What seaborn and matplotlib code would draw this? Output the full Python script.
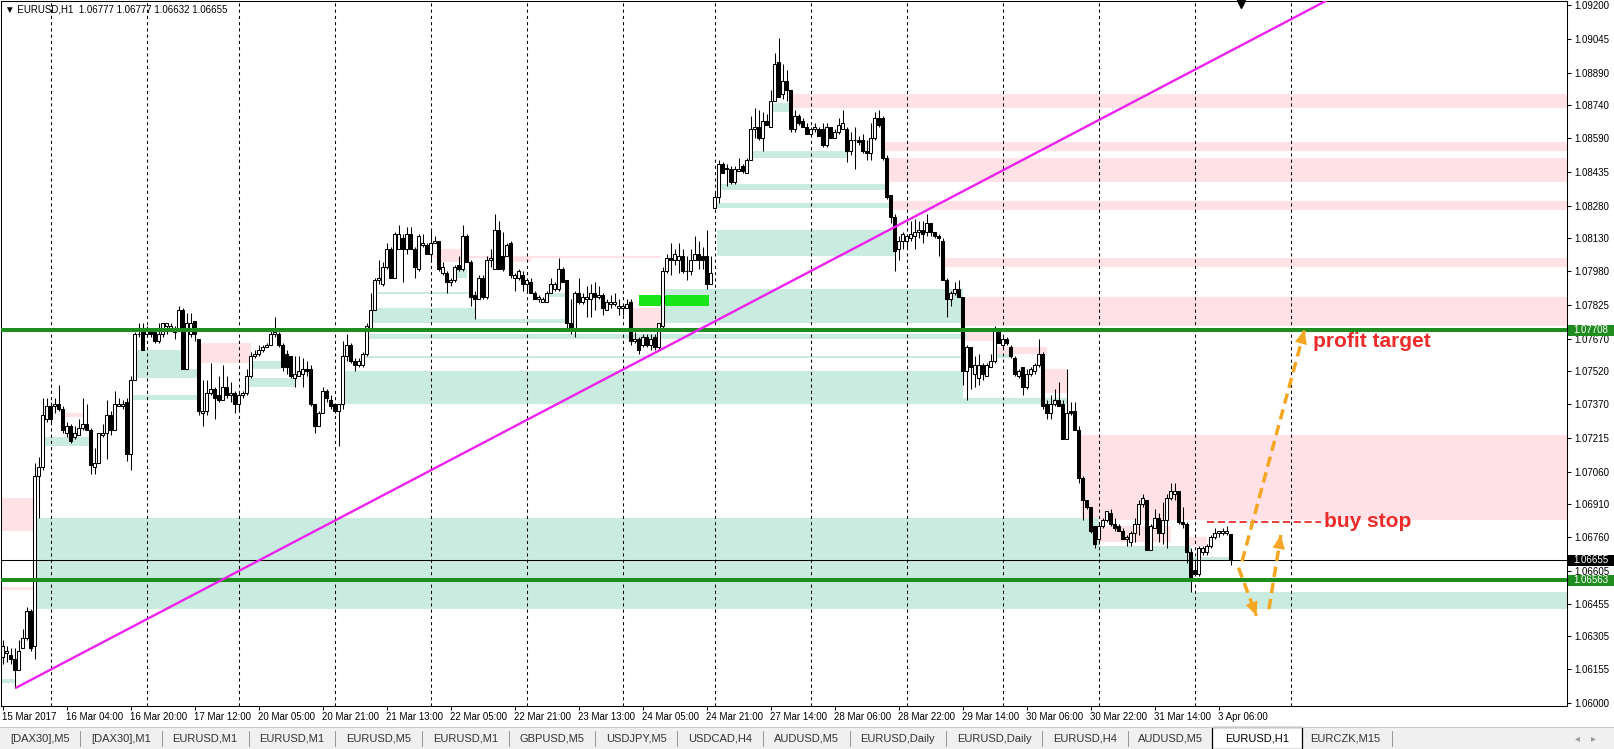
import numpy as np
import pandas as pd
import matplotlib
matplotlib.use("Agg")
import matplotlib.pyplot as plt
from matplotlib.patches import Rectangle
from matplotlib.lines import Line2D
from matplotlib.transforms import blended_transform_factory
import seaborn as sns

# -----------------------------
# EURUSD H1 candles (bar 0 = 15 Mar 2017)
# -----------------------------
open_ = [
    1.0621, 1.0623, 1.0622, 1.0620, 1.0615, 1.0625, 1.0630, 1.0642, 1.0626, 1.0704,
    1.0708, 1.0730, 1.0736, 1.0736, 1.0737, 1.0735, 1.0724, 1.0727, 1.0722, 1.0723,
    1.0726, 1.0728, 1.0725, 1.0708, 1.0710, 1.0723, 1.0724, 1.0732, 1.0725, 1.0736,
    1.0736, 1.0738, 1.0714, 1.0748, 1.0769, 1.0771, 1.0769, 1.0771, 1.0770, 1.0766,
    1.0769, 1.0773, 1.0772, 1.0772, 1.0771, 1.0780, 1.0753, 1.0769, 1.0775, 1.0767,
    1.0733, 1.0734, 1.0742, 1.0744, 1.0741, 1.0739, 1.0745, 1.0741, 1.0742, 1.0737,
    1.0741, 1.0742, 1.0750, 1.0759, 1.0760, 1.0762, 1.0763, 1.0764, 1.0769, 1.0769,
    1.0764, 1.0760, 1.0759, 1.0749, 1.0750, 1.0751, 1.0753, 1.0753, 1.0737, 1.0727,
    1.0733, 1.0743, 1.0739, 1.0737, 1.0734, 1.0737, 1.0759, 1.0764, 1.0757, 1.0755,
    1.0755, 1.0760, 1.0772, 1.0780, 1.0794, 1.0792, 1.0800, 1.0808, 1.0795, 1.0808,
    1.0813, 1.0808, 1.0815, 1.0808, 1.0799, 1.0810, 1.0810, 1.0806, 1.0811, 1.0812,
    1.0797, 1.0797, 1.0793, 1.0794, 1.0801, 1.0799, 1.0814, 1.0802, 1.0787, 1.0785,
    1.0795, 1.0786, 1.0803, 1.0799, 1.0817, 1.0805, 1.0805, 1.0811, 1.0795, 1.0795,
    1.0796, 1.0792, 1.0793, 1.0788, 1.0785, 1.0784, 1.0784, 1.0788, 1.0790, 1.0790,
    1.0799, 1.0794, 1.0774, 1.0772, 1.0788, 1.0784, 1.0785, 1.0785, 1.0788, 1.0786,
    1.0787, 1.0780, 1.0783, 1.0783, 1.0781, 1.0781, 1.0781, 1.0784, 1.0766, 1.0767,
    1.0764, 1.0768, 1.0764, 1.0768, 1.0763, 1.0773, 1.0798, 1.0804, 1.0803, 1.0803,
    1.0805, 1.0798, 1.0798, 1.0803, 1.0806, 1.0805, 1.0805, 1.0792, 1.0827, 1.0832,
    1.0847, 1.0845, 1.0845, 1.0839, 1.0844, 1.0846, 1.0843, 1.0849, 1.0863, 1.0864,
    1.0859, 1.0867, 1.0864, 1.0876, 1.0894, 1.0879, 1.0885, 1.0881, 1.0863, 1.0869,
    1.0867, 1.0864, 1.0861, 1.0863, 1.0863, 1.0863, 1.0856, 1.0864, 1.0859, 1.0862,
    1.0863, 1.0863, 1.0853, 1.0858, 1.0858, 1.0858, 1.0853, 1.0852, 1.0859, 1.0868,
    1.0868, 1.0850, 1.0833, 1.0823, 1.0808, 1.0812, 1.0812, 1.0813, 1.0814, 1.0816,
    1.0817, 1.0816, 1.0820, 1.0816, 1.0814, 1.0812, 1.0794, 1.0785, 1.0788, 1.0790,
    1.0786, 1.0752, 1.0763, 1.0751, 1.0749, 1.0755, 1.0750, 1.0754, 1.0757, 1.0771,
    1.0764, 1.0767, 1.0763, 1.0758, 1.0750, 1.0754, 1.0745, 1.0751, 1.0752, 1.0755,
    1.0760, 1.0737, 1.0733, 1.0737, 1.0739, 1.0737, 1.0721, 1.0734, 1.0734, 1.0725,
    1.0703, 1.0693, 1.0690, 1.0681, 1.0675, 1.0681, 1.0684, 1.0687, 1.0682, 1.0681,
    1.0679, 1.0675, 1.0674, 1.0678, 1.0682, 1.0691, 1.0693, 1.0670, 1.0680, 1.0685,
    1.0678, 1.0684, 1.0694, 1.0696, 1.0697, 1.0683, 1.0682, 1.0669, 1.0661, 1.0659,
    1.0669, 1.0669, 1.0672, 1.0676, 1.0678, 1.0678, 1.0678, 1.06777,
]
high = [
    1.0629, 1.0626, 1.0625, 1.0625, 1.0629, 1.0634, 1.0644, 1.0643, 1.0710, 1.0713,
    1.0740, 1.0740, 1.0738, 1.0740, 1.0746, 1.0736, 1.0729, 1.0728, 1.0727, 1.0730,
    1.0740, 1.0737, 1.0726, 1.0717, 1.0724, 1.0728, 1.0739, 1.0734, 1.0743, 1.0740,
    1.0739, 1.0740, 1.0750, 1.0770, 1.0774, 1.0774, 1.0773, 1.0772, 1.0772, 1.0774,
    1.0774, 1.0774, 1.0774, 1.0773, 1.0782, 1.0781, 1.0779, 1.0779, 1.0775, 1.0767,
    1.0748, 1.0748, 1.0756, 1.0745, 1.0750, 1.0755, 1.0750, 1.0747, 1.0743, 1.0742,
    1.0743, 1.0753, 1.0761, 1.0762, 1.0764, 1.0764, 1.0765, 1.0771, 1.0777, 1.0770,
    1.0765, 1.0762, 1.0759, 1.0759, 1.0759, 1.0758, 1.0757, 1.0755, 1.0737, 1.0734,
    1.0745, 1.0744, 1.0741, 1.0737, 1.0737, 1.0766, 1.0769, 1.0765, 1.0758, 1.0758,
    1.0761, 1.0774, 1.0788, 1.0795, 1.0803, 1.0802, 1.0811, 1.0809, 1.0816, 1.0819,
    1.0815, 1.0818, 1.0818, 1.0809, 1.0815, 1.0815, 1.0811, 1.0817, 1.0814, 1.0812,
    1.0802, 1.0798, 1.0795, 1.0801, 1.0805, 1.0819, 1.0815, 1.0803, 1.0789, 1.0796,
    1.0796, 1.0805, 1.0808, 1.0824, 1.0821, 1.0816, 1.0811, 1.0812, 1.0797, 1.0799,
    1.0798, 1.0794, 1.0795, 1.0789, 1.0787, 1.0786, 1.0789, 1.0795, 1.0793, 1.0804,
    1.0800, 1.0794, 1.0785, 1.0789, 1.0795, 1.0788, 1.0791, 1.0792, 1.0793, 1.0791,
    1.0788, 1.0785, 1.0787, 1.0788, 1.0785, 1.0783, 1.0785, 1.0785, 1.0770, 1.0768,
    1.0769, 1.0769, 1.0769, 1.0769, 1.0774, 1.0800, 1.0806, 1.0811, 1.0808, 1.0811,
    1.0808, 1.0805, 1.0808, 1.0814, 1.0812, 1.0809, 1.0817, 1.0805, 1.0834, 1.0849,
    1.0848, 1.0847, 1.0846, 1.0846, 1.0850, 1.0847, 1.0850, 1.0869, 1.0873, 1.0872,
    1.0871, 1.0870, 1.0881, 1.0898, 1.0905, 1.0893, 1.0890, 1.0881, 1.0872, 1.0870,
    1.0868, 1.0866, 1.0864, 1.0866, 1.0864, 1.0866, 1.0866, 1.0864, 1.0863, 1.0868,
    1.0872, 1.0864, 1.0862, 1.0864, 1.0860, 1.0861, 1.0858, 1.0866, 1.0871, 1.0872,
    1.0869, 1.0851, 1.0833, 1.0824, 1.0814, 1.0816, 1.0815, 1.0821, 1.0822, 1.0821,
    1.0821, 1.0824, 1.0820, 1.0816, 1.0815, 1.0813, 1.0795, 1.0789, 1.0793, 1.0794,
    1.0786, 1.0764, 1.0763, 1.0759, 1.0760, 1.0756, 1.0756, 1.0760, 1.0773, 1.0772,
    1.0768, 1.0768, 1.0764, 1.0759, 1.0753, 1.0754, 1.0753, 1.0754, 1.0756, 1.0767,
    1.0761, 1.0739, 1.0741, 1.0744, 1.0747, 1.0739, 1.0753, 1.0738, 1.0738, 1.0727,
    1.0704, 1.0693, 1.0690, 1.0681, 1.0683, 1.0685, 1.0688, 1.0689, 1.0685, 1.0682,
    1.0680, 1.0677, 1.0679, 1.0685, 1.0693, 1.0696, 1.0693, 1.0682, 1.0689, 1.0687,
    1.0692, 1.0696, 1.0701, 1.0701, 1.0697, 1.0690, 1.0683, 1.0671, 1.0665, 1.0672,
    1.0672, 1.0673, 1.0677, 1.0680, 1.0679, 1.0680, 1.0681, 1.06777,
]
low = [
    1.0618, 1.0619, 1.0618, 1.0607, 1.0615, 1.0625, 1.0629, 1.0624, 1.0620, 1.0685,
    1.0707, 1.0729, 1.0729, 1.0733, 1.0734, 1.0724, 1.0722, 1.0719, 1.0721, 1.0723,
    1.0725, 1.0725, 1.0705, 1.0705, 1.0710, 1.0722, 1.0712, 1.0723, 1.0725, 1.0736,
    1.0735, 1.0711, 1.0707, 1.0748, 1.0768, 1.0762, 1.0768, 1.0768, 1.0765, 1.0765,
    1.0768, 1.0769, 1.0771, 1.0767, 1.0771, 1.0753, 1.0753, 1.0768, 1.0766, 1.0732,
    1.0727, 1.0732, 1.0741, 1.0730, 1.0738, 1.0739, 1.0740, 1.0738, 1.0733, 1.0734,
    1.0740, 1.0741, 1.0749, 1.0758, 1.0759, 1.0761, 1.0763, 1.0764, 1.0768, 1.0763,
    1.0752, 1.0751, 1.0749, 1.0745, 1.0750, 1.0745, 1.0750, 1.0736, 1.0724, 1.0727,
    1.0733, 1.0738, 1.0735, 1.0733, 1.0718, 1.0735, 1.0757, 1.0756, 1.0752, 1.0754,
    1.0754, 1.0759, 1.0772, 1.0780, 1.0792, 1.0791, 1.0799, 1.0795, 1.0795, 1.0808,
    1.0793, 1.0806, 1.0808, 1.0795, 1.0798, 1.0809, 1.0806, 1.0802, 1.0811, 1.0798,
    1.0796, 1.0788, 1.0791, 1.0793, 1.0798, 1.0798, 1.0802, 1.0782, 1.0776, 1.0785,
    1.0785, 1.0785, 1.0800, 1.0799, 1.0799, 1.0798, 1.0805, 1.0795, 1.0789, 1.0794,
    1.0789, 1.0789, 1.0788, 1.0785, 1.0784, 1.0784, 1.0784, 1.0788, 1.0789, 1.0789,
    1.0793, 1.0772, 1.0769, 1.0768, 1.0783, 1.0783, 1.0777, 1.0777, 1.0780, 1.0785,
    1.0778, 1.0780, 1.0781, 1.0782, 1.0778, 1.0778, 1.0781, 1.0764, 1.0765, 1.0760,
    1.0763, 1.0763, 1.0762, 1.0762, 1.0762, 1.0772, 1.0797, 1.0796, 1.0801, 1.0797,
    1.0797, 1.0794, 1.0796, 1.0803, 1.0799, 1.0799, 1.0790, 1.0792, 1.0827, 1.0829,
    1.0843, 1.0837, 1.0838, 1.0838, 1.0844, 1.0843, 1.0843, 1.0849, 1.0859, 1.0858,
    1.0853, 1.0865, 1.0864, 1.0876, 1.0878, 1.0877, 1.0876, 1.0862, 1.0862, 1.0865,
    1.0864, 1.0861, 1.0860, 1.0862, 1.0860, 1.0855, 1.0855, 1.0859, 1.0859, 1.0861,
    1.0863, 1.0848, 1.0851, 1.0845, 1.0856, 1.0852, 1.0849, 1.0849, 1.0858, 1.0864,
    1.0849, 1.0831, 1.0820, 1.0798, 1.0803, 1.0808, 1.0808, 1.0812, 1.0808, 1.0813,
    1.0811, 1.0814, 1.0814, 1.0813, 1.0805, 1.0794, 1.0777, 1.0782, 1.0787, 1.0786,
    1.0746, 1.0739, 1.0744, 1.0745, 1.0746, 1.0748, 1.0750, 1.0754, 1.0756, 1.0765,
    1.0763, 1.0764, 1.0758, 1.0750, 1.0749, 1.0741, 1.0744, 1.0750, 1.0751, 1.0754,
    1.0735, 1.0730, 1.0730, 1.0736, 1.0736, 1.0721, 1.0721, 1.0732, 1.0725, 1.0701,
    1.0684, 1.0689, 1.0678, 1.0671, 1.0673, 1.0680, 1.0683, 1.0681, 1.0679, 1.0679,
    1.0675, 1.0672, 1.0672, 1.0674, 1.0677, 1.0690, 1.0670, 1.0670, 1.0680, 1.0674,
    1.0673, 1.0671, 1.0693, 1.0693, 1.0682, 1.0680, 1.0664, 1.0651, 1.0658, 1.0658,
    1.0668, 1.0668, 1.0671, 1.0675, 1.0676, 1.0677, 1.0677, 1.06632,
]
close = [
    1.0626, 1.0624, 1.0620, 1.0615, 1.0624, 1.0630, 1.0642, 1.0625, 1.0704, 1.0708,
    1.0732, 1.0736, 1.0730, 1.0737, 1.0735, 1.0725, 1.0727, 1.0720, 1.0724, 1.0726,
    1.0728, 1.0725, 1.0709, 1.0710, 1.0724, 1.0724, 1.0732, 1.0725, 1.0737, 1.0737,
    1.0737, 1.0714, 1.0748, 1.0769, 1.0769, 1.0762, 1.0771, 1.0769, 1.0766, 1.0769,
    1.0774, 1.0774, 1.0773, 1.0770, 1.0780, 1.0753, 1.0774, 1.0774, 1.0769, 1.0734,
    1.0734, 1.0742, 1.0744, 1.0740, 1.0739, 1.0745, 1.0741, 1.0742, 1.0737, 1.0741,
    1.0742, 1.0750, 1.0759, 1.0760, 1.0762, 1.0763, 1.0764, 1.0769, 1.0770, 1.0764,
    1.0754, 1.0754, 1.0750, 1.0751, 1.0752, 1.0753, 1.0752, 1.0737, 1.0727, 1.0733,
    1.0743, 1.0740, 1.0736, 1.0734, 1.0737, 1.0759, 1.0764, 1.0757, 1.0755, 1.0757,
    1.0760, 1.0773, 1.0780, 1.0794, 1.0795, 1.0800, 1.0808, 1.0795, 1.0815, 1.0815,
    1.0808, 1.0815, 1.0808, 1.0800, 1.0814, 1.0811, 1.0806, 1.0811, 1.0812, 1.0799,
    1.0800, 1.0793, 1.0794, 1.0800, 1.0799, 1.0814, 1.0802, 1.0786, 1.0785, 1.0795,
    1.0786, 1.0803, 1.0804, 1.0817, 1.0799, 1.0799, 1.0810, 1.0796, 1.0796, 1.0798,
    1.0792, 1.0794, 1.0788, 1.0785, 1.0786, 1.0785, 1.0788, 1.0792, 1.0792, 1.0799,
    1.0793, 1.0774, 1.0772, 1.0788, 1.0784, 1.0786, 1.0786, 1.0788, 1.0786, 1.0787,
    1.0781, 1.0784, 1.0784, 1.0784, 1.0782, 1.0782, 1.0783, 1.0766, 1.0767, 1.0762,
    1.0768, 1.0764, 1.0767, 1.0763, 1.0774, 1.0798, 1.0804, 1.0803, 1.0806, 1.0805,
    1.0798, 1.0798, 1.0803, 1.0806, 1.0803, 1.0803, 1.0792, 1.0797, 1.0832, 1.0847,
    1.0843, 1.0845, 1.0839, 1.0845, 1.0845, 1.0844, 1.0849, 1.0863, 1.0864, 1.0859,
    1.0867, 1.0865, 1.0876, 1.0893, 1.0878, 1.0885, 1.0881, 1.0863, 1.0869, 1.0866,
    1.0864, 1.0861, 1.0863, 1.0864, 1.0860, 1.0856, 1.0864, 1.0859, 1.0862, 1.0865,
    1.0866, 1.0853, 1.0858, 1.0858, 1.0857, 1.0853, 1.0852, 1.0859, 1.0868, 1.0865,
    1.0850, 1.0832, 1.0823, 1.0807, 1.0812, 1.0815, 1.0814, 1.0815, 1.0816, 1.0817,
    1.0815, 1.0820, 1.0816, 1.0814, 1.0813, 1.0794, 1.0785, 1.0788, 1.0790, 1.0786,
    1.0752, 1.0763, 1.0754, 1.0755, 1.0755, 1.0751, 1.0755, 1.0757, 1.0771, 1.0765,
    1.0767, 1.0765, 1.0759, 1.0751, 1.0752, 1.0745, 1.0751, 1.0753, 1.0755, 1.0760,
    1.0736, 1.0733, 1.0737, 1.0739, 1.0736, 1.0721, 1.0733, 1.0733, 1.0725, 1.0703,
    1.0693, 1.0690, 1.0679, 1.0673, 1.0681, 1.0684, 1.0688, 1.0682, 1.0680, 1.0679,
    1.0675, 1.0676, 1.0678, 1.0682, 1.0691, 1.0694, 1.0670, 1.0681, 1.0685, 1.0678,
    1.0684, 1.0694, 1.0697, 1.0697, 1.0683, 1.0682, 1.0669, 1.0657, 1.0659, 1.0671,
    1.0671, 1.0672, 1.0676, 1.0678, 1.0679, 1.0679, 1.0679, 1.06655,
]

# time axis: a label every 16 bars, day separators at midnight bars
date_labels = ["15 Mar 2017", "16 Mar 04:00", "16 Mar 20:00", "17 Mar 12:00", "20 Mar 05:00",
               "20 Mar 21:00", "21 Mar 13:00", "22 Mar 05:00", "22 Mar 21:00", "23 Mar 13:00",
               "24 Mar 05:00", "24 Mar 21:00", "27 Mar 14:00", "28 Mar 06:00", "28 Mar 22:00",
               "29 Mar 14:00", "30 Mar 06:00", "30 Mar 22:00", "31 Mar 14:00", "3 Apr 06:00"]
day_bars = [12, 36, 59, 83, 107, 131, 155, 178, 202, 226, 250, 274, 298, 322]

price_labels = ["1.09200", "1.09045", "1.08890", "1.08740", "1.08590", "1.08435", "1.08280",
                "1.08130", "1.07980", "1.07825", "1.07670", "1.07520", "1.07370", "1.07215",
                "1.07060", "1.06910", "1.06760", "1.06605", "1.06455", "1.06305", "1.06155",
                "1.06000"]

level_prices = [1.07708, 1.06563]
bid_price = 1.06655

# supply zones (pink): start bar, end bar, low, high
supply_start = [-1, -1, 16, 50, 108, 110, 128, 158, 198, 221, 222, 223, 236, 241, 241, 248, 261, 270, 271, 297]
supply_end = [8.5, 8.5, 20, 62, 164.5, 115.5, 132, 165, 400, 400, 400, 400, 400, 400, 249, 261, 266, 400, 292, 301]
supply_low = [1.0679, 1.0652, 1.0731, 1.0756, 1.0804, 1.0802, 1.0802, 1.0772, 1.0873, 1.0853,
              1.0839, 1.0826, 1.0800, 1.0773, 1.0766, 1.0760, 1.0742, 1.0684, 1.0674, 1.0672]
supply_high = [1.0694, 1.0653, 1.0733, 1.0765, 1.0805, 1.0808, 1.0805, 1.0781, 1.0879, 1.0857,
               1.0850, 1.0830, 1.0804, 1.0786, 1.0770, 1.0763, 1.0753, 1.0723, 1.0681, 1.0676]

# demand zones (mint)
demand_start = [-1, 9, 9, 9, 11, 33, 34, 45, 62, 63, 86, 240, 91, 92, 93, 118, 94, 114,
                166, 179, 179, 180, 188, 193, 137, 249, 298]
demand_end = [3, 274, 297, 400, 22, 49, 45, 49, 73, 69.5, 240, 266, 241, 241, 118, 141, 117, 116,
              240, 223, 222, 221, 211, 197, 141, 252, 307]
demand_low = [1.0609, 1.0672, 1.0651, 1.0643, 1.0718, 1.0739, 1.0749, 1.0749, 1.0745, 1.0753,
              1.0737, 1.0737, 1.0758, 1.0767, 1.0774, 1.0774, 1.07875, 1.0795, 1.0774, 1.0805,
              1.0827, 1.0835, 1.0850, 1.0871, 1.0786, 1.0758, 1.0665]
demand_high = [1.0611, 1.0685, 1.0672, 1.0651, 1.0722, 1.0741, 1.0762, 1.0753, 1.0749, 1.0757,
               1.0752, 1.0740, 1.0759, 1.0769, 1.0781, 1.0776, 1.07884, 1.0799, 1.0790, 1.0817,
               1.0829, 1.0838, 1.0853, 1.0875, 1.0788, 1.0760, 1.0667]

# bright green box object
box_bars = [159, 176.5]
box_prices = [1.0782, 1.0787]

# magenta trend line
trend_x = [3.4, 331.0]
trend_y = [1.0607, 1.0922]

# buy stop line and orange arrows
buy_stop_bars = [301, 329.5]
buy_stop_price = 1.0683
arrow_x0 = [309.9, 309.0, 316.6]
arrow_y0 = [1.0665, 1.0662, 1.0643]
arrow_x1 = [325.5, 313.5, 319.6]
arrow_y1 = [1.0771, 1.0640, 1.0677]

title_text = "\u25bc EURUSD,H1  1.06777 1.06777 1.06632 1.06655"
tabs = ["[DAX30],M5", "[DAX30],M1", "EURUSD,M1", "EURUSD,M1", "EURUSD,M5", "EURUSD,M1",
        "GBPUSD,M5", "USDJPY,M5", "USDCAD,H4", "AUDUSD,M5", "EURUSD,Daily", "EURUSD,Daily",
        "EURUSD,H4", "AUDUSD,M5", "EURUSD,H1", "EURCZK,M15"]
active_tab = 14

PINK = "#FFE1E6"
MINT = "#CAEBDF"
GREEN = "#1F8C1F"
LIME = "#19E619"
MAGENTA = "#EE22EE"
ORANGE = "#F5A623"
RED = "#EE2B2B"

# -----------------------------
# Figure
# -----------------------------
sns.set_style("white")
plt.rcParams["font.family"] = ["Liberation Sans", "DejaVu Sans"]

W, H = 1614, 749
fig = plt.figure(figsize=(W / 100, H / 100), dpi=100)
fig.patch.set_facecolor("white")
ax = fig.add_axes([1 / W, 43 / H, 1566 / W, 705 / H])
ax.set_facecolor("white")
ax.set_xlim(-0.375, 391.125)
ax.set_ylim(1.059862, 1.092183)

# zones (background objects)
for s, e, lo, hi in zip(supply_start, supply_end, supply_low, supply_high):
    ax.fill_between([s - 0.5, e], lo, hi, color=PINK, lw=0, zorder=0.5)
for s, e, lo, hi in zip(demand_start, demand_end, demand_low, demand_high):
    ax.fill_between([s - 0.5, e], lo, hi, color=MINT, lw=0, zorder=0.6)
ax.fill_between(box_bars, box_prices[0], box_prices[1], color=LIME, lw=0, zorder=0.7)

# day separators
for b in day_bars:
    ax.axvline(b, color="black", lw=0.75, ls=(0, (3, 3)), zorder=1)

# candles
df = pd.DataFrame({"open": open_, "high": high, "low": low, "close": close})
df["bar"] = np.arange(len(df))
up = df["close"] >= df["open"]
ax.vlines(df["bar"], df["low"], df["high"], color="black", lw=0.75, zorder=2)
body = (df["close"] - df["open"]).abs().clip(lower=0.000012)
ax.bar(df["bar"], body, bottom=df[["open", "close"]].min(axis=1), width=0.55,
       color=np.where(up, "white", "black"), edgecolor="black", lw=0.75, zorder=2.2)

# levels and trend line
ax.axhline(bid_price, color="black", lw=0.75, zorder=2.9)
for lvl in level_prices:
    ax.axhline(lvl, color=GREEN, lw=2.9, zorder=3)
sns.lineplot(x=trend_x, y=trend_y, ax=ax, color=MAGENTA, lw=1.7, zorder=3.1)

# buy stop + arrows + notes
ax.plot(buy_stop_bars, [buy_stop_price] * 2, color=RED, lw=1.3, ls=(0, (4, 2)), zorder=3.2)
for x0, y0, x1, y1 in zip(arrow_x0, arrow_y0, arrow_x1, arrow_y1):
    ax.plot([x0, x1], [y0, y1], color=ORANGE, lw=2.5, ls=(0, (3, 1.7)),
            dash_capstyle="butt", zorder=3.3)
    ax.annotate("", xy=(x1, y1), xytext=(x1 - (x1 - x0) * 0.08, y1 - (y1 - y0) * 0.08),
                arrowprops=dict(arrowstyle="-|>,head_length=1.0,head_width=0.45",
                                mutation_scale=10, color=ORANGE, lw=0,
                                shrinkA=0, shrinkB=0), zorder=3.4)
ax.text(330.4, buy_stop_price, "buy stop", color=RED, fontsize=15, fontweight="bold",
        ha="left", va="center", zorder=4)
ax.text(327.6, 1.07656, "profit target", color=RED, fontsize=15, fontweight="bold",
        ha="left", va="center", zorder=4)

# axes / ticks
for sp in ax.spines.values():
    sp.set_color("black")
    sp.set_linewidth(0.75)
    sp.set_visible(True)
ax.grid(False)
ax.set_yticks([float(p) for p in price_labels])
ax.set_yticklabels(price_labels)
ax.tick_params(axis="y", which="both", left=False, right=True, labelleft=False,
               labelright=True, length=3, width=0.75, pad=2, labelsize=7, colors="black")
ax.set_xticks(np.arange(len(date_labels)) * 16)
ax.set_xticklabels(date_labels, ha="left")
ax.tick_params(axis="x", bottom=True, length=3, width=0.75, pad=1, labelsize=7, colors="black")

# price tags on the scale
trans = blended_transform_factory(ax.transAxes, ax.transData)
tag_h = 11 / 21812
for val, fc in [(level_prices[0], GREEN), (bid_price, "black"), (level_prices[1], GREEN)]:
    ax.add_patch(Rectangle((1.0 + 1 / 1566, val - tag_h / 2), 46 / 1566, tag_h, transform=trans,
                           fc=fc, ec="none", clip_on=False, zorder=5))
    ax.text(1.0 + 6 / 1566, val, f"{val:.5f}", transform=trans, ha="left", va="center",
            fontsize=7, color="white", clip_on=False, zorder=6)

# chart shift marker and title
ax.plot([len(df) + 1.5], [1 - 2.5 / 705], marker="v", ms=6, color="black", clip_on=False,
        transform=blended_transform_factory(ax.transData, ax.transAxes), zorder=6)
fig.text(5 / W, 1 - 10 / H, title_text, fontsize=7, color="black", ha="left", va="center")

# tab bar
def fy(py):
    return 1 - py / H

fig.patches.append(Rectangle((0, 0), 1, 22 / H, transform=fig.transFigure,
                             fc="#F0F0F0", ec="none", zorder=0))
fig.add_artist(Line2D([0, 1], [fy(727), fy(727)], color="#C8C8C8", lw=0.75,
                      transform=fig.transFigure))
renderer = fig.canvas.get_renderer()
x = 10.0
pad = 10.8
for i, name in enumerate(tabs):
    t = fig.text(x / W, fy(738.5), name, fontsize=8, ha="left", va="center",
                 color="black" if i == active_tab else "#333333", zorder=3)
    w = t.get_window_extent(renderer).width
    right = x + w + pad
    if i == active_tab:
        fig.patches.append(Rectangle(((x - pad - 2) / W, 0), (w + 2 * pad + 4) / W, 22 / H,
                                     transform=fig.transFigure, fc="white", ec="black",
                                     lw=0.9, zorder=1))
    elif i != active_tab - 1:
        fig.add_artist(Line2D([right / W, right / W], [fy(731), fy(746)], color="#9A9A9A",
                              lw=0.75, transform=fig.transFigure))
    x = right + pad
fig.text(1577 / W, fy(738.5), "\u25c2", fontsize=7, color="#9A9A9A", ha="center", va="center")
fig.text(1593 / W, fy(738.5), "\u25b8", fontsize=7, color="#9A9A9A", ha="center", va="center")

fig.savefig("out.png", dpi=100)
